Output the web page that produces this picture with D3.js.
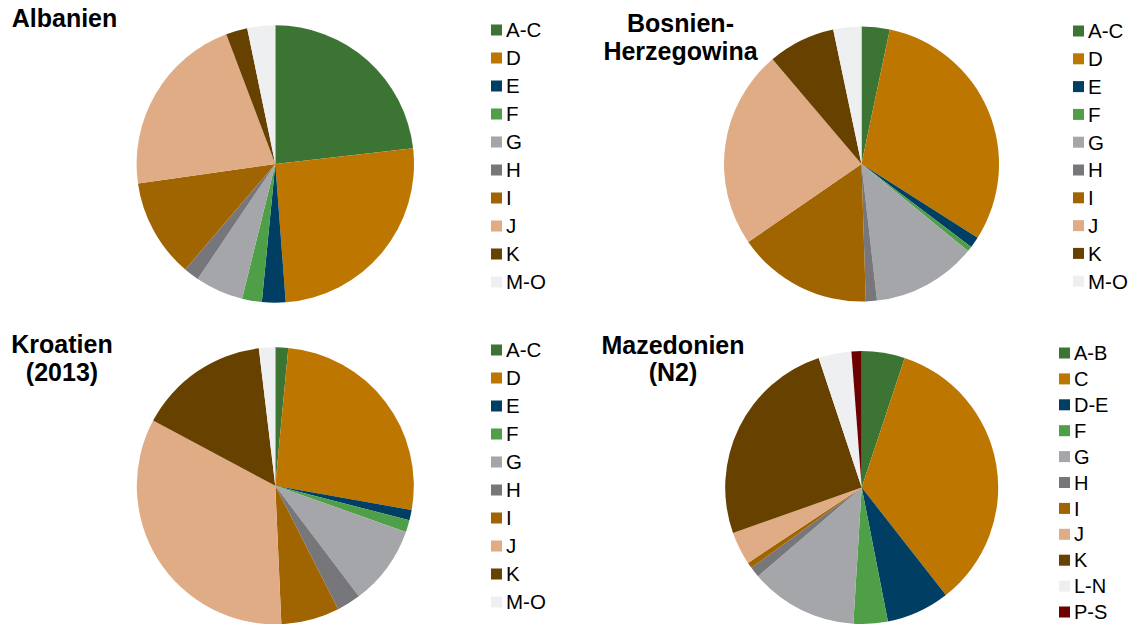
<!DOCTYPE html>
<html>
<head>
<meta charset="utf-8">
<script src="https://cdnjs.cloudflare.com/ajax/libs/d3/7.8.5/d3.min.js"></script>
<style>
  html, body { margin: 0; padding: 0; background: #fff; }
  svg { display: block; font-family: "Liberation Sans", Arial, sans-serif; }
</style>
</head>
<body>
<svg id="chart" width="1133" height="624"></svg>
<script>
// ---- data ----
const catsStd = ["A-C", "D", "E", "F", "G", "H", "I", "J", "K", "M-O"];
const catsMk  = ["A-B", "C", "D-E", "F", "G", "H", "I", "J", "K", "L-N", "P-S"];

const valuesAlbanien = [23.2, 25.6, 2.75, 2.3, 5.6, 1.8, 11.5, 21.5, 2.5, 3.25];
const valuesBosnien  = [3.3, 30.7, 1.3, 0.6, 12.3, 1.3, 15.9, 23.4, 7.9, 3.3];
const valuesKroatien = [1.5, 26.3, 1.2, 1.4, 9.3, 2.8, 6.8, 33.5, 15.3, 1.9];
const valuesMazedonien = [5.1, 34.3, 7.5, 4.05, 12.75, 1.25, 0.7, 3.9, 25.3, 3.9, 1.2];

const colorsStd = ["#3c7433", "#bd7700", "#003f63", "#4f9e48", "#a5a6a9", "#77777b", "#a06400", "#e0ac85", "#664100", "#eeeff1"];
const colorsMk  = ["#3c7433", "#bd7700", "#003f63", "#4f9e48", "#a5a6a9", "#77777b", "#a06400", "#e0ac85", "#664100", "#eeeff1", "#6d0000"];

const titles = [["Albanien"], ["Bosnien-", "Herzegowina"], ["Kroatien", "(2013)"], ["Mazedonien", "(N2)"]];

// ---- layout ----
const panels = [
  { title: titles[0], cats: catsStd, vals: valuesAlbanien, cols: colorsStd,
    cx: 275.3, cy: 164, r: 138.7, tx: 64.5, ty: 27,
    lx: 491, ly: 30, lstep: 28, fs: 20.5 },
  { title: titles[1], cats: catsStd, vals: valuesBosnien, cols: colorsStd,
    cx: 861.5, cy: 164, r: 137.5, tx: 680.5, ty: 32,
    lx: 1073, ly: 31, lstep: 27.8, fs: 20.5 },
  { title: titles[2], cats: catsStd, vals: valuesKroatien, cols: colorsStd,
    cx: 275.3, cy: 485.8, r: 138.5, tx: 62, ty: 353,
    lx: 491, ly: 350, lstep: 28, fs: 20.5 },
  { title: titles[3], cats: catsMk, vals: valuesMazedonien, cols: colorsMk,
    cx: 861.7, cy: 487.5, r: 136.5, tx: 673, ty: 353.5,
    lx: 1059, ly: 353, lstep: 25.9, fs: 20 }
];

const svg = d3.select("#chart");

panels.forEach(p => {
  const g = svg.append("g");
  const color = d3.scaleOrdinal().domain(p.cats).range(p.cols);
  const data = p.cats.map((c, i) => ({ cat: c, value: p.vals[i] }));
  const pie = d3.pie().value(d => d.value).sort(null);
  const arc = d3.arc().innerRadius(0).outerRadius(p.r);

  g.append("g")
    .attr("transform", `translate(${p.cx},${p.cy})`)
    .selectAll("path")
    .data(pie(data))
    .join("path")
    .attr("d", arc)
    .attr("fill", d => color(d.data.cat));

  // title
  const t = g.append("text")
    .attr("x", p.tx)
    .attr("y", p.ty)
    .attr("text-anchor", "middle")
    .attr("font-size", 25)
    .attr("font-weight", "bold")
    .attr("fill", "#000");
  p.title.forEach((line, i) => {
    t.append("tspan").attr("x", p.tx).attr("dy", i === 0 ? 0 : 27.5).text(line);
  });

  // legend
  const leg = g.append("g");
  const items = leg.selectAll("g")
    .data(p.cats)
    .join("g")
    .attr("transform", (d, i) => `translate(${p.lx},${p.ly + i * p.lstep})`);
  items.append("rect")
    .attr("x", 0).attr("y", -5.5)
    .attr("width", 11).attr("height", 11)
    .attr("fill", d => color(d));
  items.append("text")
    .attr("x", 15)
    .attr("y", p.fs * 0.356)
    .attr("font-size", p.fs)
    .attr("fill", "#000")
    .text(d => d);
});
</script>
</body>
</html>
